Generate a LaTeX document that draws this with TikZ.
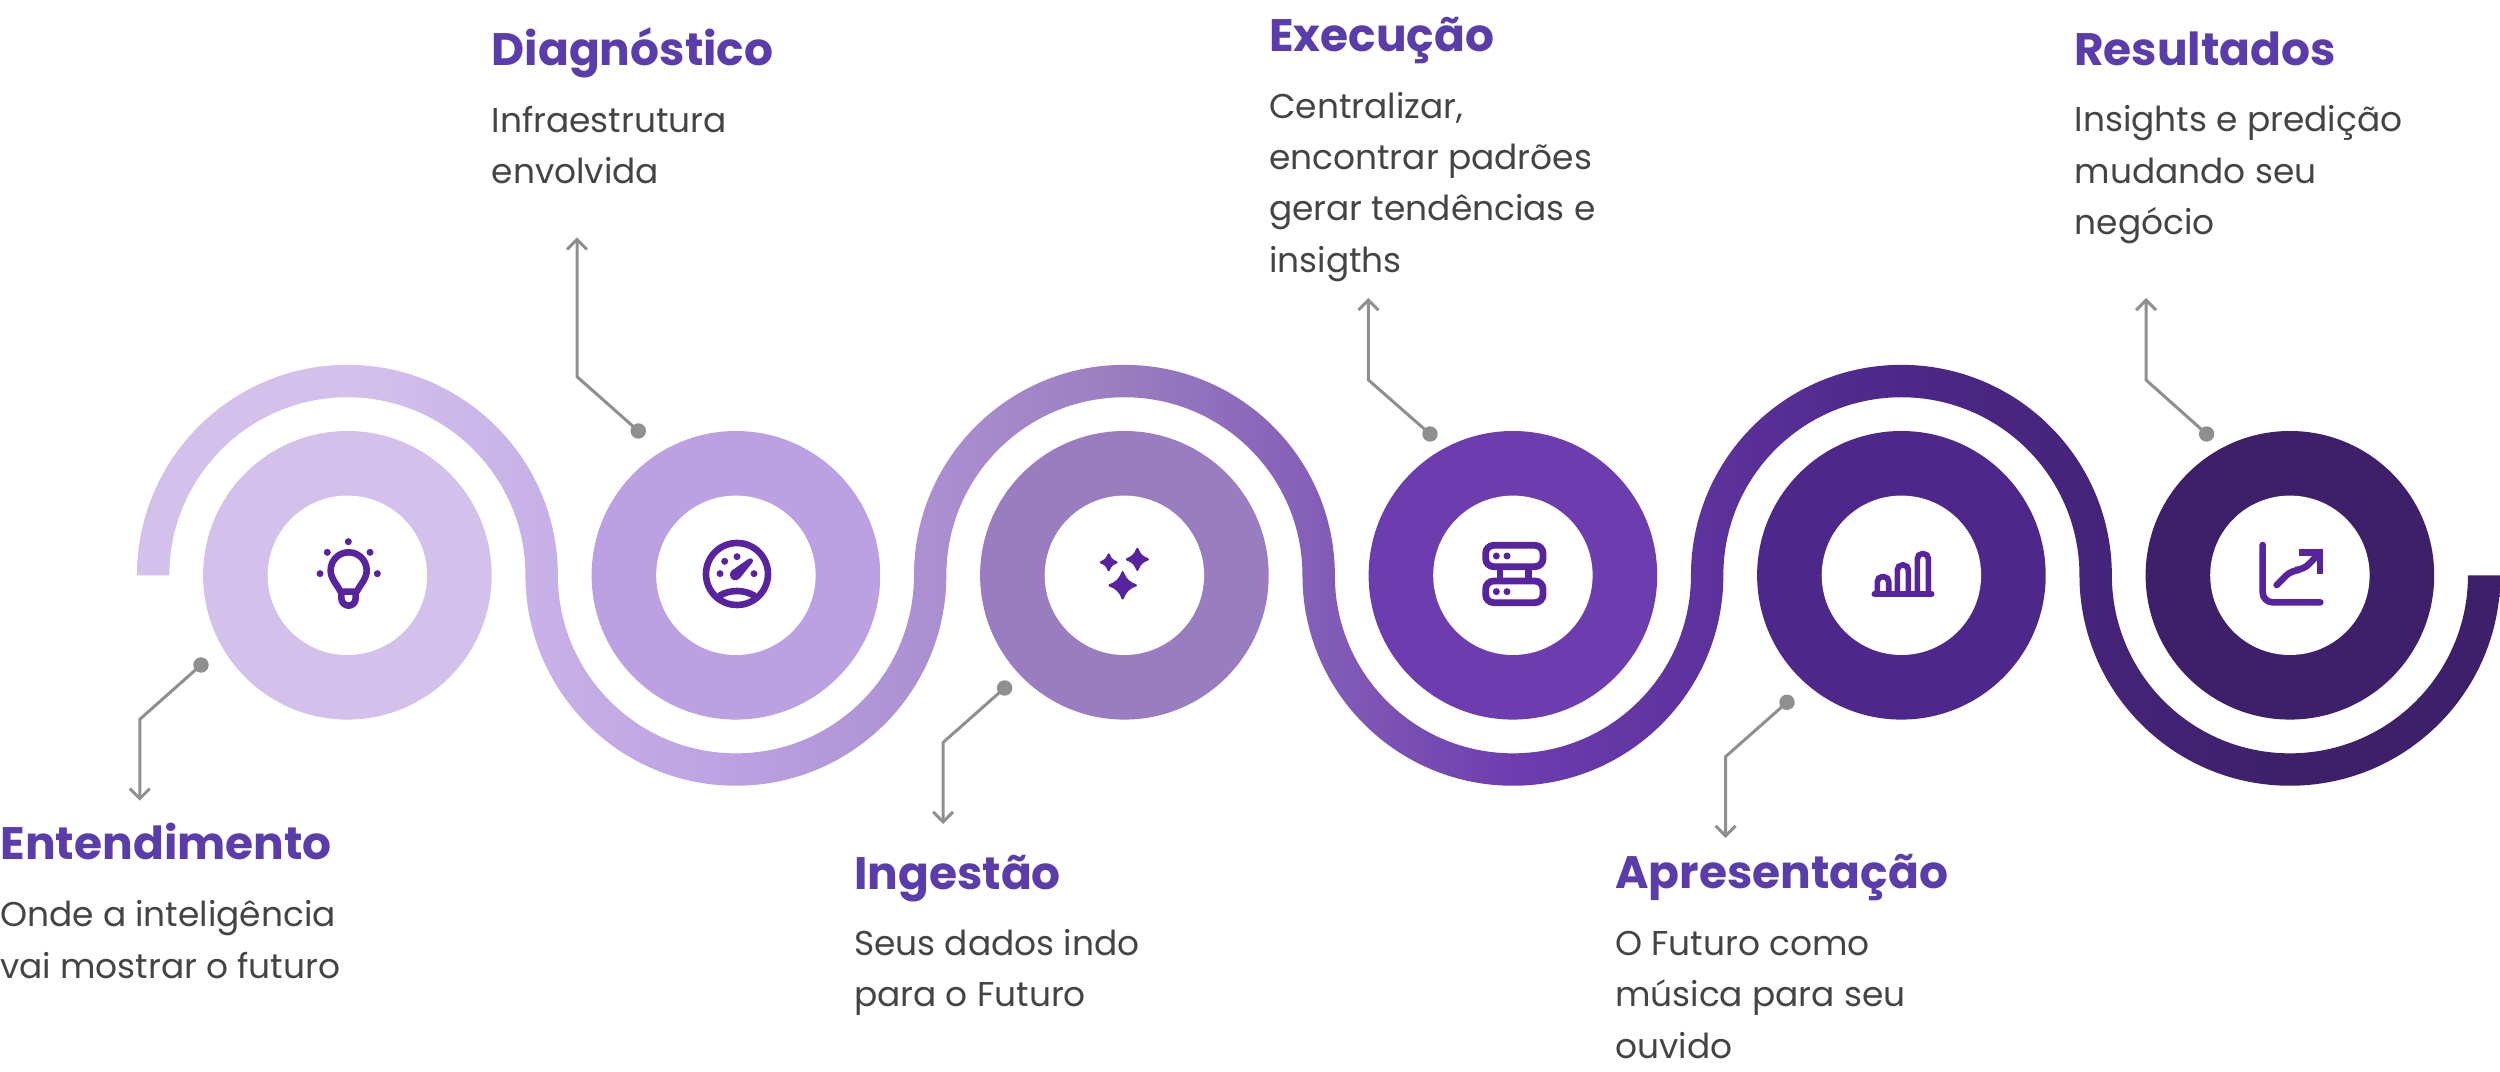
\documentclass[tikz,border=0pt]{standalone}
\usepackage{fontspec}
\setmainfont{Poppins}
\usetikzlibrary{arrows.meta}
\definecolor{cA}{HTML}{D3C1EC}
\definecolor{cB}{HTML}{BBA1E2}
\definecolor{cC}{HTML}{9A7DC0}
\definecolor{cD}{HTML}{6D3DAF}
\definecolor{cE}{HTML}{4D2789}
\definecolor{cF}{HTML}{3D2069}
\definecolor{iconpurple}{HTML}{57239E}
\definecolor{headpurple}{HTML}{5A3DAB}
\definecolor{bodygrey}{HTML}{444444}
\definecolor{leadergrey}{HTML}{8F8F8F}
\pgfdeclarehorizontalshading{ribbonshade}{100bp}{color(0bp)=(cA); color(25bp)=(cA); color(29.45bp)=(cA); color(37.7bp)=(cB); color(45.9bp)=(cC); color(54.1bp)=(cD); color(62.3bp)=(cE); color(70.6bp)=(cF); color(75bp)=(cF); color(100bp)=(cF)}
\tikzset{
  ring/.style={circle,minimum size=288.6pt,inner sep=0pt,draw=none},
  hole/.style={circle,minimum size=159.4pt,inner sep=0pt,fill=white,draw=none},
  pin/.style={circle,minimum size=15.4pt,inner sep=0pt,fill=leadergrey,draw=none},
  leader/.style={draw=leadergrey,line width=3pt,-{Straight Barb[length=10pt,width=20pt,line width=3pt]}},
  headtext/.style={anchor=base west,inner sep=0pt,text=headpurple,font=\fontsize{45.5}{50}\selectfont\bfseries},
  bodytext/.style={anchor=base west,inner sep=0pt,align=left,text=bodygrey,font=\fontsize{34.4}{51.3}\selectfont},
  iconline/.style={draw=iconpurple,line width=6.6pt,fill=none},
  iconfill/.style={fill=iconpurple,draw=none},
}
\newcommand{\idot}[2]{\fill[iconpurple] (#1,#2) circle[radius=3.5pt];}
\newcommand{\sparkle}[3]{\filldraw[iconpurple,line width=2.4pt,line join=round,shift={(#1,#2)},scale=#3]
  (0,-1) .. controls (0.2,-0.45) and (0.45,-0.2) .. (1,0)
  .. controls (0.45,0.2) and (0.2,0.45) .. (0,1)
  .. controls (-0.2,0.45) and (-0.45,0.2) .. (-1,0)
  .. controls (-0.45,-0.2) and (-0.2,-0.45) .. (0,-1) -- cycle;}
\begin{document}
\begin{tikzpicture}[x=1pt,y=1pt]
\useasboundingbox (0,0) rectangle (2500,1071);
\fill[white] (0,0) rectangle (2500,1071);
% ribbon
\def\Ro{210.45pt}\def\Ri{178.05pt}
\shade[shading=ribbonshade]
  (136.95,495.7)
  arc[start angle=180,end angle=0,radius=\Ro]
  arc[start angle=180,end angle=360,radius=\Ri]
  arc[start angle=180,end angle=0,radius=\Ro]
  arc[start angle=180,end angle=360,radius=\Ri]
  arc[start angle=180,end angle=0,radius=\Ro]
  arc[start angle=180,end angle=360,radius=\Ri]
  -- (2500.35,495.7)
  arc[start angle=0,end angle=-180,radius=\Ro]
  arc[start angle=0,end angle=180,radius=\Ri]
  arc[start angle=0,end angle=-180,radius=\Ro]
  arc[start angle=0,end angle=180,radius=\Ri]
  arc[start angle=0,end angle=-180,radius=\Ro]
  arc[start angle=0,end angle=180,radius=\Ri]
  -- cycle;
% rings
\node[ring,fill=cA] (r1) at (347.4,495.7) {};
\node[ring,fill=cB] (r2) at (735.9,495.7) {};
\node[ring,fill=cC] (r3) at (1124.4,495.7) {};
\node[ring,fill=cD] (r4) at (1512.9,495.7) {};
\node[ring,fill=cE] (r5) at (1901.4,495.7) {};
\node[ring,fill=cF] (r6) at (2289.9,495.7) {};
\node[hole] (h1) at (r1) {};
\node[hole] (h2) at (r2) {};
\node[hole] (h3) at (r3) {};
\node[hole] (h4) at (r4) {};
\node[hole] (h5) at (r5) {};
\node[hole] (h6) at (r6) {};
% icon 1 and 2
\begin{scope}[shift={(290,561)},x=0.33333pt,y=-0.33333pt]
  \draw[iconline,line join=round] (152,245) .. controls (135,215) and (122,205) .. (122,181)
    .. controls (122,151) and (146,127) .. (176,127)
    .. controls (206,127) and (230,151) .. (230,181)
    .. controls (230,205) and (217,215) .. (200,245) -- cycle;
  \draw[iconline] (154,245) -- (154,265) .. controls (154,277) and (164,287) .. (176,287)
    .. controls (188,287) and (197,277) .. (197,265) -- (197,245);
  \idot{175}{95}\idot{112}{127}\idot{240}{127}\idot{90}{191}\idot{262}{191}
  \draw[iconline] (1341,192) circle[radius=31pt];
  \draw[iconline] (1287,258) .. controls (1320,238) and (1362,238) .. (1395,258);
  \idot{1290}{191}\idot{1304}{154}\idot{1341}{140}\idot{1392}{191}
  \fill[iconpurple] (1325,182) -- (1375,147) .. controls (1385,141) and (1393,150) .. (1387,158)
    -- (1350,204) .. controls (1340,216) and (1320,212) .. (1320,195)
    .. controls (1320,190) and (1321,185) .. (1325,182) -- cycle;
\end{scope}
% icon 3 and 4
\begin{scope}[shift={(1060,561)},x=0.33333pt,y=-0.33333pt]
  \sparkle{146}{157}{23}
  \sparkle{232}{148}{31}
  \sparkle{188}{226}{39}
  \draw[iconline,line width=6.8pt,rounded corners=8pt] (1277,106) rectangle (1449,170);
  \draw[iconline,line width=6.8pt,rounded corners=8pt] (1277,213) rectangle (1449,278);
  \draw[iconline,line width=6.8pt] (1320,170) -- (1320,213) (1405,170) -- (1405,213);
  \idot{1309}{138}\idot{1341}{138}\idot{1309}{245}\idot{1341}{245}
\end{scope}
% icon 5 and 6
\begin{scope}[shift={(1840,561)},x=0.33333pt,y=-0.33333pt]
  \draw[iconline,line width=5.7pt,line cap=round] (103,252) -- (275,252);
  \draw[iconline,line width=5.7pt,rounded corners=5pt] (112,252) -- (112,200) -- (146,200) -- (146,252);
  \draw[iconline,line width=5.7pt,rounded corners=5pt] (172,252) -- (172,165) -- (205,165) -- (205,252);
  \draw[iconline,line width=5.7pt,rounded corners=5pt] (232,252) -- (232,131) -- (265,131) -- (265,252);
  \draw[iconline,line cap=round,rounded corners=10pt] (1268,105) -- (1268,277) -- (1441,277);
  \draw[iconline,line cap=round,rounded corners=8pt] (1310,225) -- (1355,180) -- (1390,180) -- (1432,136);
  \draw[iconline,line join=miter] (1376,127) -- (1440,127) -- (1440,192);
\end{scope}
% leaders
\node[pin] (d1) at (201,406) {};
\node[pin] (d2) at (638.3,640) {};
\node[pin] (d3) at (1004.6,383) {};
\node[pin] (d4) at (1430,637) {};
\node[pin] (d5) at (1787,368.7) {};
\node[pin] (d6) at (2206.6,637) {};
\coordinate (b1) at (139.8,351.7); \coordinate (t1) at (139.8,270.3);
\coordinate (b2) at (577,694.3);   \coordinate (t2) at (577,833.7);
\coordinate (b3) at (943.1,328.6); \coordinate (t3) at (943.1,247);
\coordinate (b4) at (1368.4,691);  \coordinate (t4) at (1368.4,773);
\coordinate (b5) at (1725.5,314.3);\coordinate (t5) at (1725.5,233);
\coordinate (b6) at (2146,691);    \coordinate (t6) at (2146,773);
\draw[leader] (d1.center) -- (b1) -- (t1);
\draw[leader] (d2.center) -- (b2) -- (t2);
\draw[leader] (d3.center) -- (b3) -- (t3);
\draw[leader] (d4.center) -- (b4) -- (t4);
\draw[leader] (d5.center) -- (b5) -- (t5);
\draw[leader] (d6.center) -- (b6) -- (t6);
% text
\node[headtext] (h-a) at (0.5,211.7) {Entendimento};
\node[bodytext] (b-a) at (0,92.8) {Onde a inteligência\\vai mostrar o futuro};
\node[headtext] (h-b) at (491.5,1005) {Diagnóstico};
\node[bodytext] (b-b) at (491.5,887.2) {Infraestrutura\\envolvida};
\node[headtext] (h-c) at (854,181.5) {Ingestão};
\node[bodytext] (b-c) at (854,64.5) {Seus dados indo\\para o Futuro};
\node[headtext] (h-d) at (1269,1019.3) {Execução};
\node[bodytext] (b-d) at (1269,798.8) {Centralizar,\\encontrar padrões\\gerar tendências e\\insigths};
\node[headtext] (h-e) at (1615,182.2) {Apresentação};
\node[bodytext] (b-e) at (1615,12.8) {O Futuro como\\música para seu\\ouvido};
\node[headtext] (h-f) at (2074,1005) {Resultados};
\node[bodytext] (b-f) at (2074.5,836.5) {Insights e predição\\mudando seu\\negócio};
\end{tikzpicture}
\end{document}
